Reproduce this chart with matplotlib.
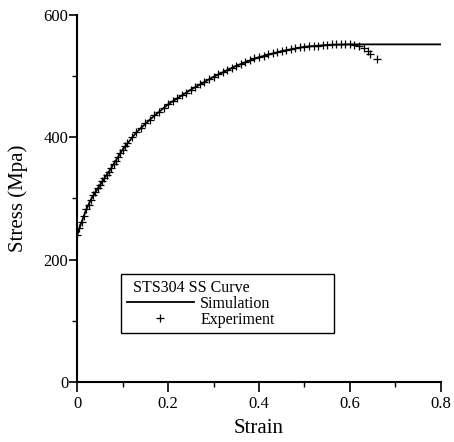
import numpy as np
import matplotlib
matplotlib.use("Agg")
import matplotlib.pyplot as plt
from matplotlib.ticker import MultipleLocator

plt.rcParams['font.family'] = ['Liberation Serif', 'DejaVu Serif']

# experiment
exp_strain = [0.0, 0.005, 0.01, 0.015, 0.02, 0.025, 0.03, 0.035, 0.04, 0.045,
              0.05, 0.055, 0.06, 0.065, 0.07, 0.075, 0.08, 0.085, 0.09, 0.095,
              0.10, 0.105, 0.11, 0.12, 0.13, 0.14, 0.15, 0.16, 0.17, 0.18,
              0.19, 0.20, 0.21, 0.22, 0.23, 0.24, 0.25, 0.26, 0.27, 0.28,
              0.29, 0.30, 0.31, 0.32, 0.33, 0.34, 0.35, 0.36, 0.37, 0.38,
              0.39, 0.40, 0.41, 0.42, 0.43, 0.44, 0.45, 0.46, 0.47, 0.48,
              0.49, 0.50, 0.51, 0.52, 0.53, 0.54, 0.55, 0.56, 0.57, 0.58,
              0.59, 0.60, 0.61, 0.62, 0.63, 0.64, 0.645, 0.66]
exp_stress = [240, 251, 262, 272, 282, 290, 298, 305, 311, 317,
              322, 328, 333, 339, 344, 350, 356, 362, 368, 374,
              380, 386, 391, 400, 408, 416, 423, 429, 436, 442,
              448, 454, 459, 464, 469, 473, 478, 482, 487, 491,
              495, 499, 503, 507, 510, 514, 517, 520, 523, 526,
              529, 531, 533, 536, 538, 540, 541, 543, 544, 546,
              547, 548, 549, 549, 550, 551, 551, 552, 552, 552,
              552, 552, 551, 550, 546, 541, 537, 528]

# simulation
sim_strain = [0.0, 0.01, 0.02, 0.03, 0.05, 0.07, 0.10, 0.13, 0.16, 0.20,
              0.25, 0.30, 0.35, 0.40, 0.45, 0.50, 0.55, 0.60, 0.65, 0.70,
              0.75, 0.80]
sim_stress = [240, 262, 282, 298, 322, 344, 380, 408, 429, 454,
              478, 499, 517, 531, 541, 548, 551, 552, 552, 552,
              552, 552]

x_ticks = [0, 0.2, 0.4, 0.6, 0.8]
x_labels = ['0', '0.2', '0.4', '0.6', '0.8']
y_ticks = [0, 200, 400, 600]

fig = plt.figure(figsize=(4.54, 4.42), dpi=100)
ax = fig.add_axes([0.17, 0.136, 0.801, 0.83])

sim, = ax.plot(sim_strain, sim_stress, color='black', lw=1.3, label='Simulation')
exp, = ax.plot(exp_strain, exp_stress, ls='none', marker='+', color='black',
               ms=6, mew=0.9, label='Experiment')

ax.set_xlim(0, 0.8)
ax.set_ylim(0, 600)
ax.set_xticks(x_ticks)
ax.set_xticklabels(x_labels)
ax.set_yticks(y_ticks)
ax.xaxis.set_minor_locator(MultipleLocator(0.1))
ax.yaxis.set_minor_locator(MultipleLocator(100))

for s in ['top', 'right']:
    ax.spines[s].set_visible(False)
for s in ['left', 'bottom']:
    ax.spines[s].set_linewidth(1.5)

ax.tick_params(axis='x', which='major', direction='out', length=7, width=1.2,
               labelsize=12, pad=3)
ax.tick_params(axis='x', which='minor', direction='out', length=3.5, width=1.0)
ax.tick_params(axis='y', which='major', direction='out', length=5.5, width=1.2,
               labelsize=12, pad=1)
ax.tick_params(axis='y', which='minor', direction='out', length=3.5, width=1.0)

ax.set_xlabel('Strain', fontsize=15, labelpad=5)
ax.set_ylabel('Stress (Mpa)', fontsize=15, labelpad=11)

leg = ax.legend(handles=[sim, exp], title='STS304 SS Curve', loc='upper left',
                bbox_to_anchor=(0.121, 0.136, 0.585, 0.158), mode='expand',
                fontsize=11.5, title_fontsize=11.5,
                frameon=True, fancybox=False, edgecolor='black', framealpha=1,
                handlelength=4.2, handletextpad=0.4, borderpad=0.35,
                labelspacing=0.0, borderaxespad=0)
leg._legend_box.align = 'left'
leg.get_title().set_x(6)
leg.get_frame().set_linewidth(1.0)

fig.savefig('out.png', dpi=100)
